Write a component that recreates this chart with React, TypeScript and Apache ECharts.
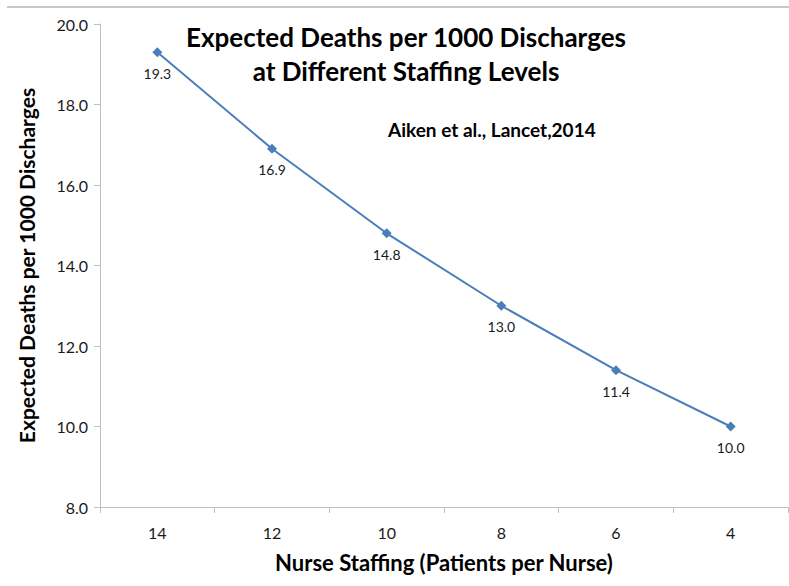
import React, { useEffect, useRef } from "react";
import * as echarts from "echarts";

const categories = ["14", "12", "10", "8", "6", "4"];
const deaths = [19.3, 16.9, 14.8, 13.0, 11.4, 10.0];
const yMin = 8;
const yMax = 20;
const yStep = 2;

export default function App() {
  const ref = useRef<HTMLDivElement>(null);
  useEffect(() => {
    if (!ref.current) return;
    const chart = echarts.init(ref.current, null, { renderer: "svg" });
    const font = "Lato, 'Open Sans', sans-serif";
    chart.setOption({
      animation: false,
      backgroundColor: "#ffffff",
      textStyle: { fontFamily: font },
      title: [
        {
          text: "Expected Deaths per 1000 Discharges\nat Different Staffing Levels",
          left: 401,
          top: 15,
          textAlign: "center",
          textStyle: { fontFamily: font, fontSize: 26, fontWeight: "bold", color: "#000", lineHeight: 34 },
        },
        {
          text: "Aiken et al., Lancet,2014",
          left: 383,
          top: 115,
          textStyle: { fontFamily: font, fontSize: 19, fontWeight: "bold", color: "#000" },
        },
      ],
      graphic: [
        {
          type: "line",
          shape: { x1: 7, y1: 7, x2: 789, y2: 7 },
          style: { stroke: "#c8c8c8", lineWidth: 2 },
        },
      ],
      grid: { left: 100, right: 1, top: 24, bottom: 79, containLabel: false },
      xAxis: {
        type: "category",
        data: categories,
        boundaryGap: true,
        name: "Nurse Staffing (Patients per Nurse)",
        nameLocation: "middle",
        nameGap: 44,
        nameTextStyle: { fontFamily: font, fontSize: 22, fontWeight: "bold", color: "#000" },
        axisLine: { lineStyle: { color: "#bfbfbf", width: 1 } },
        axisTick: { show: true, length: 6, alignWithLabel: false, lineStyle: { color: "#bfbfbf" } },
        axisLabel: { fontFamily: font, fontSize: 16, color: "#1a1a1a", margin: 17 },
        splitLine: { show: false },
      },
      yAxis: {
        type: "value",
        min: yMin,
        max: yMax,
        interval: yStep,
        name: "Expected Deaths per 1000 Discharges",
        nameLocation: "middle",
        nameGap: 63,
        nameTextStyle: { fontFamily: font, fontSize: 21, fontWeight: "bold", color: "#000" },
        axisLine: { show: true, lineStyle: { color: "#bfbfbf", width: 1 } },
        axisTick: { show: true, length: 6, lineStyle: { color: "#bfbfbf" } },
        axisLabel: { fontFamily: font, fontSize: 16, color: "#1a1a1a", margin: 12, formatter: (v: number) => v.toFixed(1) },
        splitLine: { show: false },
      },
      series: [
        {
          type: "line",
          data: deaths,
          symbol: "diamond",
          symbolSize: 10,
          lineStyle: { color: "#4a7ebb", width: 2 },
          itemStyle: { color: "#4a7ebb" },
          label: {
            show: true,
            position: "bottom",
            distance: 9,
            fontFamily: font,
            fontSize: 14,
            color: "#1a1a1a",
            formatter: (p: any) => Number(p.value).toFixed(1),
          },
        },
      ],
    });
    return () => chart.dispose();
  }, []);
  return <div ref={ref} style={{ width: 789, height: 586, position: "absolute", left: 0, top: 0 }} />;
}
